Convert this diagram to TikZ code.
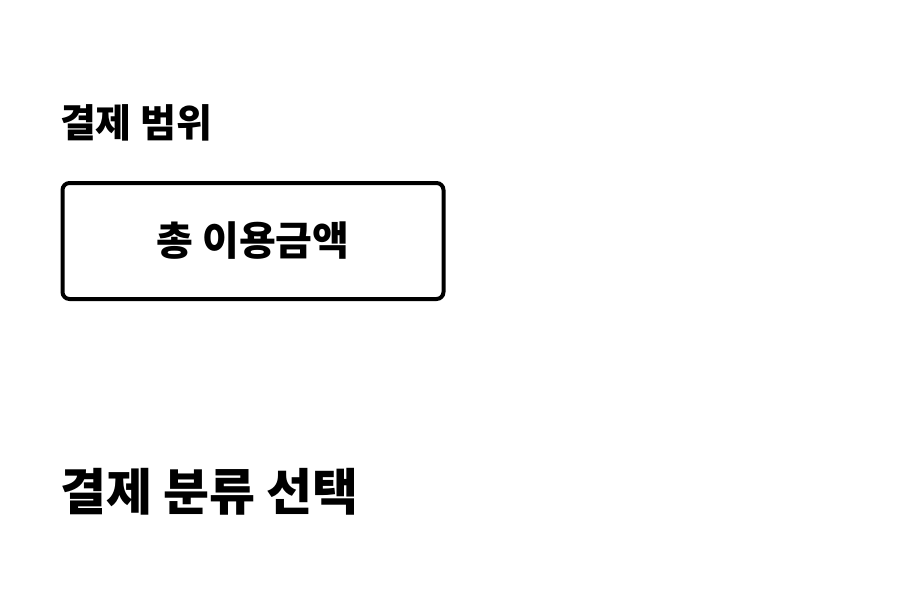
\documentclass[tikz,border=0pt]{standalone}
\usepackage{fontspec}
\newfontfamily\kr{Noto Sans CJK KR}
\usetikzlibrary{positioning}
\begin{document}
\begin{tikzpicture}[x=1pt, y=-1pt,
	inner sep=0pt, outer sep=0pt,%
	label/.style={font=\kr\bfseries\fontsize{39}{44}\selectfont, anchor=base west},
	heading/.style={font=\kr\bfseries\fontsize{50}{56}\selectfont, anchor=base west},
	choice/.style={draw=black, line width=4pt, rounded corners=7pt, minimum width=381pt, minimum height=116pt,
		font=\kr\bfseries\fontsize{40}{44}\selectfont},
	]
	% Frame
	\useasboundingbox (0,0) rectangle (900,600);
	
	% Range of payment
	\node[label] (range) at (60,137) {결제 범위};
	\node[choice, anchor=north west] (total) at (62.5,183) {총 이용금액};
	
	% Category of payment
	\node[heading] (category) at (60,510) {결제 분류 선택};
\end{tikzpicture}
\end{document}
